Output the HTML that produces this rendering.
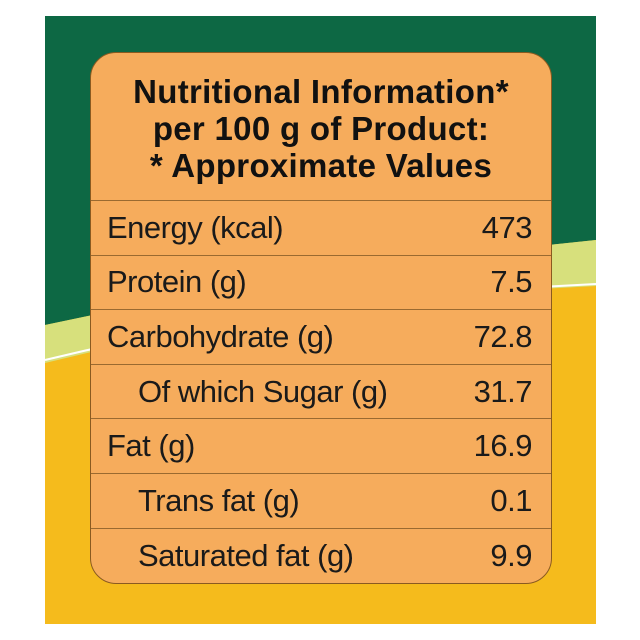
<!DOCTYPE html>
<html><head><style>
body{margin:0;background:#fff;width:640px;height:640px;position:relative;overflow:hidden;font-family:"Liberation Sans",sans-serif}
svg{position:absolute;left:0;top:0}
.card{position:absolute;left:90px;top:52px;width:462px;height:532px;background:#f6ac5c;border:1.5px solid #8a5a20;border-radius:26px;box-sizing:border-box;overflow:hidden}
.hd{height:148px;text-align:center;font-weight:bold;font-size:33px;line-height:37px;color:#111;padding-top:20px;box-sizing:border-box;border-bottom:1.5px solid #9a6a30;letter-spacing:0.3px}
.row{height:54.6px;border-bottom:1.5px solid #9a6a30;display:flex;justify-content:space-between;align-items:center;font-size:31px;color:#1a1a1a;padding:0 19px 0 16px;box-sizing:border-box;letter-spacing:-0.5px}
.row:last-child{border-bottom:none}
.in{padding-left:47px}
</style></head><body>
<svg width="640" height="640">
<rect x="45" y="16" width="551" height="608" fill="#f5bb1c"/>
<path d="M45 16H596V240Q300 270 45 325Z" fill="#0d6844"/>
<path d="M45 325Q300 270 596 240V286Q300 300 45 363Z" fill="#d7e07c"/>
<path d="M45 360Q300 298 596 284" stroke="#fff" stroke-width="2" fill="none"/>
</svg>
<div class="card">
<div class="hd">Nutritional Information*<br>per 100 g of Product:<br>* Approximate Values</div>
<div class="row"><span>Energy (kcal)</span><span>473</span></div>
<div class="row"><span>Protein (g)</span><span>7.5</span></div>
<div class="row"><span>Carbohydrate (g)</span><span>72.8</span></div>
<div class="row in"><span>Of which Sugar (g)</span><span>31.7</span></div>
<div class="row"><span>Fat (g)</span><span>16.9</span></div>
<div class="row in"><span>Trans fat (g)</span><span>0.1</span></div>
<div class="row in"><span>Saturated fat (g)</span><span>9.9</span></div>
</div>
</body></html>
